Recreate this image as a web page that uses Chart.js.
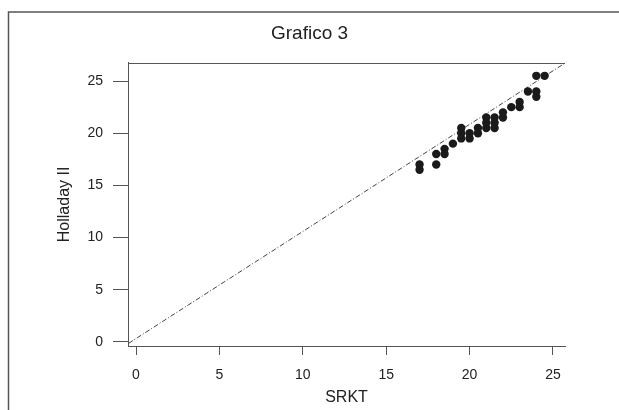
<!DOCTYPE html>
<html>
<head>
<meta charset="utf-8">
<script src="https://cdn.jsdelivr.net/npm/chart.js@4/dist/chart.umd.min.js"></script>
<style>
  html, body { margin: 0; padding: 0; background: #fff; }
  canvas { display: block; }
</style>
</head>
<body>
<canvas id="myChart" width="619" height="410"></canvas>
<script>
// SRKT vs Holladay II values
var srkt =     [17, 17, 18, 18, 18.5, 18.5, 19, 19.5, 19.5, 19.5, 20, 20, 20.5, 20.5, 21, 21, 21, 21.5, 21.5, 21.5, 22, 22, 22.5, 23, 23, 23.5, 24, 24, 24, 24.5];
var holladay = [17, 16.5, 18, 17, 18.5, 18, 19, 20.5, 20, 19.5, 20, 19.5, 20.5, 20, 21.5, 21, 20.5, 21.5, 21, 20.5, 22, 21.5, 22.5, 23, 22.5, 24, 25.5, 24, 23.5, 25.5];

// fitted line end points
var fitX = [-0.45, 25.7];
var fitY = [-0.15, 26.7];

var tickValues = [0, 5, 10, 15, 20, 25];

var points = srkt.map(function (x, i) { return { x: x, y: holladay[i] }; });
var fitLine = fitX.map(function (x, i) { return { x: x, y: fitY[i] }; });

var FONT = 'Arial, "Liberation Sans", sans-serif';

// frame around the figure and top line of the plot box
var framePlugin = {
    id: 'frame',
    beforeDraw: function (chart) {
        var c = chart.ctx;
        c.save();
        c.fillStyle = '#fff';
        c.fillRect(0, 0, chart.width, chart.height);
        c.strokeStyle = '#555';
        c.lineWidth = 1.5;
        c.beginPath();
        c.moveTo(8.5, chart.height);
        c.lineTo(8.5, 12);
        c.lineTo(chart.width, 12);
        c.stroke();
        c.restore();
    },
    afterDraw: function (chart) {
        var a = chart.chartArea, c = chart.ctx;
        c.save();
        c.strokeStyle = '#555';
        c.lineWidth = 1;
        c.beginPath();
        c.moveTo(a.left, Math.round(a.top) + 0.5);
        c.lineTo(a.right, Math.round(a.top) + 0.5);
        c.stroke();
        c.restore();
    }
};

var ctx = document.getElementById('myChart').getContext('2d');
var chart = new Chart(ctx, {
    type: 'scatter',
    data: {
        datasets: [{
            data: points,
            backgroundColor: '#1a1a1a',
            borderColor: '#1a1a1a',
            pointRadius: 4.2,
            pointHoverRadius: 4.2,
            borderWidth: 0
        }, {
            type: 'line',
            data: fitLine,
            borderColor: '#444',
            borderWidth: 1,
            borderDash: [5, 2, 1, 2],
            pointRadius: 0,
            fill: false
        }]
    },
    options: {
        responsive: false,
        animation: false,
        layout: { padding: 0 },
        plugins: {
            legend: { display: false },
            tooltip: { enabled: false },
            title: {
                display: true,
                text: 'Grafico 3',
                color: '#222',
                font: { family: FONT, size: 19, weight: 'normal' },
                padding: { top: 22, bottom: 18 }
            }
        },
        scales: {
            x: {
                type: 'linear',
                min: -0.48,
                max: 25.72,
                afterFit: function (scale) { scale.height = 64; },
                afterBuildTicks: function (scale) {
                    scale.ticks = tickValues.map(function (v) { return { value: v }; });
                },
                ticks: {
                    color: '#222',
                    font: { family: FONT, size: 14 },
                    padding: 12,
                    maxRotation: 0
                },
                grid: {
                    drawOnChartArea: false,
                    drawTicks: true,
                    tickLength: 9,
                    color: '#555'
                },
                border: { display: true, color: '#555', width: 1 },
                title: {
                    display: true,
                    text: 'SRKT',
                    color: '#222',
                    font: { family: FONT, size: 16 },
                    padding: { top: 0, bottom: 3 }
                }
            },
            y: {
                type: 'linear',
                min: -0.4,
                max: 26.75,
                afterFit: function (scale) { scale.width = 128; },
                afterBuildTicks: function (scale) {
                    scale.ticks = tickValues.map(function (v) { return { value: v }; });
                },
                ticks: {
                    color: '#222',
                    font: { family: FONT, size: 14 },
                    padding: 10
                },
                grid: {
                    drawOnChartArea: false,
                    drawTicks: true,
                    tickLength: 15,
                    color: '#555'
                },
                border: { display: true, color: '#555', width: 1 },
                title: {
                    display: true,
                    text: 'Holladay II',
                    color: '#222',
                    font: { family: FONT, size: 16 },
                    padding: { top: 55, bottom: 0 }
                }
            },
            // empty right-hand margin so the title stays centred on the page
            yRight: {
                type: 'linear',
                position: 'right',
                display: true,
                afterFit: function (scale) { scale.width = 54; },
                ticks: { display: false },
                grid: { display: false, drawTicks: false },
                border: { display: false }
            }
        }
    },
    plugins: [framePlugin]
});
</script>
</body>
</html>
